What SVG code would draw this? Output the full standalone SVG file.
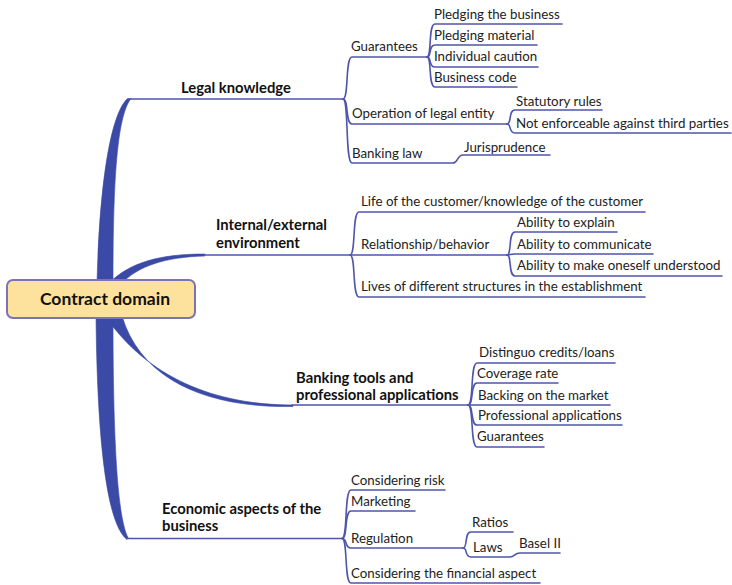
<svg xmlns="http://www.w3.org/2000/svg" width="732" height="585" viewBox="0 0 732 585">
  <style>
    .trunk { fill: #3b4aa6; stroke: #3b4aa6; stroke-width: 0.6; }
    .link { fill: none; stroke: #4f55aa; stroke-width: 1.6; stroke-linecap: round; }
    .t { font-family: Lato, "Liberation Sans", sans-serif; font-size: 13.3px; fill: #222; }
    .b { font-family: Lato, "Liberation Sans", sans-serif; font-size: 14.8px; font-weight: bold; fill: #111; }
    .root-box { fill: #fde29e; stroke: #7b72b8; stroke-width: 2; }
    .root-text { font-family: Lato, "Liberation Sans", sans-serif; font-size: 17.5px; font-weight: bold; fill: #111; }
  </style>
  <rect width="732" height="585" fill="#ffffff"/>

  <g id="connectors">
    <!-- tapered main branches from the central topic -->
    <path class="trunk" d="M97,283 C99,200 108,118 127,99 L131,98.5 C117,116 113,180 113,283 Z"/>
    <path class="trunk" d="M108,284 C130,262 160,254 205,254 L205,256 C165,257 138,266 121,284 Z"/>
    <path class="trunk" d="M105,316 C148,378 215,405 293,405 L293,406.5 C210,408 142,382 122,316 Z"/>
    <path class="trunk" d="M96,316 C97,420 104,522 127,539.5 L128,537.5 C116,515 113,420 113,316 Z"/>

    <!-- Legal knowledge -->
    <path class="link" d="M128,99 L343,99"/>
    <path class="link" d="M343,99 C349,99 345,57 352,57 L427,57"/>
    <path class="link" d="M343,99 C349,99 345,124 352,124 L507,124"/>
    <path class="link" d="M343,99 C349,99 345,163 352,163 L453,163 C458,163 457,155 463,155 L550,155"/>
    <path class="link" d="M427,57 C432,57 428,24 435,24 L562,24"/>
    <path class="link" d="M427,57 C432,57 428,45 435,45 L537,45"/>
    <path class="link" d="M427,57 C432,57 428,67 435,67 L538,67"/>
    <path class="link" d="M427,57 C432,57 428,87 435,87 L517,87"/>
    <path class="link" d="M507,124 C512,124 508,110 515,110 L602,110"/>
    <path class="link" d="M507,124 C512,124 508,133 515,133 L731,133"/>

    <!-- Internal/external environment -->
    <path class="link" d="M204,255 L507,255"/>
    <path class="link" d="M350,255 C356,255 352,212 359,212 L645,212"/>
    <path class="link" d="M350,255 C356,255 352,297 359,297 L645,297"/>
    <path class="link" d="M507,255 C512,255 508,232 515,232 L617,232"/>
    <path class="link" d="M507,255 C512,255 508,254 515,254 L653,254"/>
    <path class="link" d="M507,255 C512,255 508,276 515,276 L722,276"/>

    <!-- Banking tools and professional applications -->
    <path class="link" d="M292,405 L468,405"/>
    <path class="link" d="M468,405 C474,405 470,363 477,363 L615,363"/>
    <path class="link" d="M468,405 C474,405 470,383 477,383 L558,383"/>
    <path class="link" d="M468,405 L610,405"/>
    <path class="link" d="M468,405 C474,405 470,425 477,425 L622,425"/>
    <path class="link" d="M468,405 C474,405 470,447 477,447 L544,447"/>

    <!-- Economic aspects of the business -->
    <path class="link" d="M127,538.5 L342,538.5"/>
    <path class="link" d="M342,538.5 C348,538.5 344,490 351,490 L445,490"/>
    <path class="link" d="M342,538.5 C348,538.5 344,511 351,511 L415,511"/>
    <path class="link" d="M342,538.5 C348,538.5 344,548 351,548 L463,548"/>
    <path class="link" d="M342,538.5 C348,538.5 344,583 351,583 L540,583"/>
    <path class="link" d="M463,548 C468,548 464,532 471,532 L513,532"/>
    <path class="link" d="M463,548 C468,548 464,557 471,557 L510,557 C515,557 514,553 520,553 L560,553"/>
  </g>

  <g id="root">
    <rect class="root-box" x="7" y="280" width="188" height="38" rx="6"/>
    <text class="root-text" x="105" y="305" text-anchor="middle">Contract domain</text>
  </g>

  <g id="legal-knowledge">
    <text class="b" x="181" y="93">Legal knowledge</text>
  </g>
  <g id="guarantees">
    <text class="t" x="351" y="51">Guarantees</text>
  </g>
  <g id="pledging-business"><text class="t" x="434" y="19">Pledging the business</text></g>
  <g id="pledging-material"><text class="t" x="434" y="40">Pledging material</text></g>
  <g id="individual-caution"><text class="t" x="434" y="61">Individual caution</text></g>
  <g id="business-code"><text class="t" x="434" y="82">Business code</text></g>
  <g id="operation-legal-entity"><text class="t" x="352" y="118">Operation of legal entity</text></g>
  <g id="statutory-rules"><text class="t" x="516" y="106">Statutory rules</text></g>
  <g id="not-enforceable"><text class="t" x="516" y="128">Not enforceable against third parties</text></g>
  <g id="banking-law"><text class="t" x="352" y="158">Banking law</text></g>
  <g id="jurisprudence"><text class="t" x="464" y="152">Jurisprudence</text></g>

  <g id="internal-external">
    <text class="b" x="216" y="230">Internal/external</text>
    <text class="b" x="216" y="248">environment</text>
  </g>
  <g id="life-of-customer"><text class="t" x="361" y="206">Life of the customer/knowledge of the customer</text></g>
  <g id="relationship"><text class="t" x="361" y="249">Relationship/behavior</text></g>
  <g id="ability-explain"><text class="t" x="517" y="227">Ability to explain</text></g>
  <g id="ability-communicate"><text class="t" x="517" y="249">Ability to communicate</text></g>
  <g id="ability-understood"><text class="t" x="517" y="270">Ability to make oneself understood</text></g>
  <g id="lives-structures"><text class="t" x="361" y="291">Lives of different structures in the establishment</text></g>

  <g id="banking-tools">
    <text class="b" x="296" y="383">Banking tools and</text>
    <text class="b" x="296" y="400">professional applications</text>
  </g>
  <g id="distinguo"><text class="t" x="479" y="357">Distinguo credits/loans</text></g>
  <g id="coverage-rate"><text class="t" x="477" y="378">Coverage rate</text></g>
  <g id="backing-market"><text class="t" x="478" y="400">Backing on the market</text></g>
  <g id="professional-applications"><text class="t" x="478" y="420">Professional applications</text></g>
  <g id="guarantees-2"><text class="t" x="477" y="441">Guarantees</text></g>

  <g id="economic-aspects">
    <text class="b" x="162" y="514">Economic aspects of the</text>
    <text class="b" x="162" y="531">business</text>
  </g>
  <g id="considering-risk"><text class="t" x="351" y="485">Considering risk</text></g>
  <g id="marketing"><text class="t" x="351" y="506">Marketing</text></g>
  <g id="regulation"><text class="t" x="351" y="543">Regulation</text></g>
  <g id="ratios"><text class="t" x="472" y="527">Ratios</text></g>
  <g id="laws"><text class="t" x="473" y="552">Laws</text></g>
  <g id="basel-ii"><text class="t" x="519" y="548">Basel II</text></g>
  <g id="financial-aspect"><text class="t" x="351" y="578">Considering the financial aspect</text></g>
</svg>
